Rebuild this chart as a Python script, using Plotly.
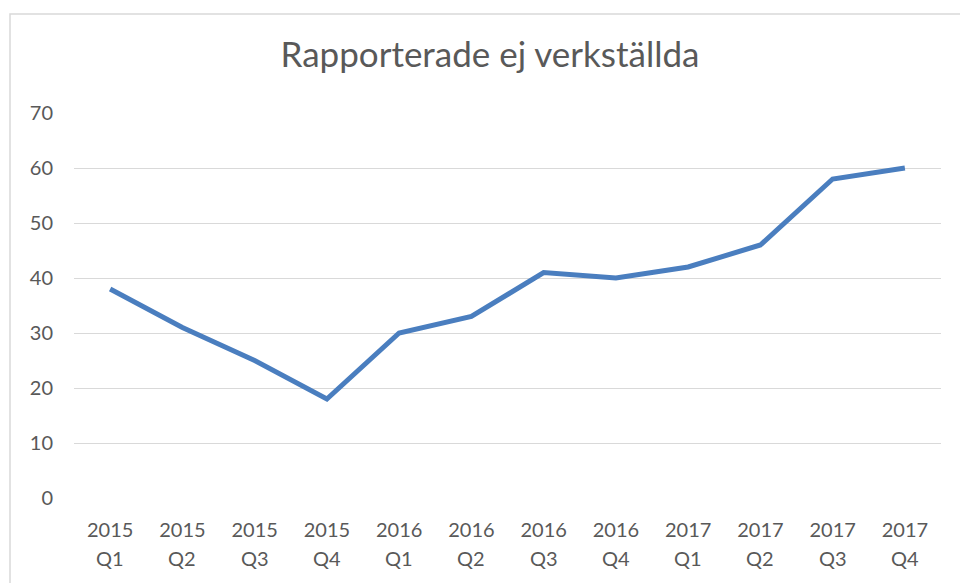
import plotly.graph_objects as go

years = ["2015", "2015", "2015", "2015", "2016", "2016", "2016", "2016",
         "2017", "2017", "2017", "2017"]
quarter_labels = ["Q1", "Q2", "Q3", "Q4", "Q1", "Q2", "Q3", "Q4",
                  "Q1", "Q2", "Q3", "Q4"]
values = [38, 31, 25, 18, 30, 33, 41, 40, 42, 46, 58, 60]
y_ticks = [0, 10, 20, 30, 40, 50, 60, 70]

FONT = "Lato, Open Sans, sans-serif"
GREY = "#595959"

xs = list(range(len(years)))

fig = go.Figure()
fig.add_trace(go.Scatter(
    x=xs, y=values, mode="lines",
    line=dict(color="#4a7ebf", width=5, shape="linear"),
    hoverinfo="skip", showlegend=False,
))

L, R, T, B = 74, 19, 113, 85
W, H = 960, 583
pw, ph = W - L - R, H - T - B

annotations = [dict(x=x, y=(H - B - 558) / ph, xref="x", yref="paper", text=q,
                    showarrow=False, xanchor="center", yanchor="middle",
                    font=dict(family=FONT, size=20, color=GREY))
               for x, q in zip(xs, quarter_labels)]

fig.update_layout(
    width=W, height=H,
    margin=dict(l=L, r=R, t=T, b=B),
    paper_bgcolor="white", plot_bgcolor="white",
    title=dict(text="Rapporterade ej verkställda", x=490 / W, xanchor="center",
               y=1 - 55 / H, yanchor="middle",
               font=dict(family=FONT, size=35, color=GREY)),
    xaxis=dict(tickmode="array", tickvals=xs, ticktext=years,
               range=[-0.5, len(years) - 0.5], showgrid=False, zeroline=False,
               showline=False, ticks="", tickfont=dict(family=FONT, size=20, color=GREY),
               ticklabelstandoff=18, fixedrange=True),
    yaxis=dict(range=[0, 70], tickvals=y_ticks, showgrid=True, gridcolor="#d9d9d9",
               gridwidth=1.3, zeroline=False, showline=False, ticks="",
               tickfont=dict(family=FONT, size=20, color=GREY),
               ticklabelstandoff=20, fixedrange=True),
    annotations=annotations,
    shapes=[dict(type="rect", xref="paper", yref="paper",
                 x0=(10 - L) / pw, x1=(W + 20 - L) / pw,
                 y0=(H - B - (H + 20)) / ph, y1=(H - B - 14) / ph,
                 line=dict(color="#d9d9d9", width=1.5), layer="below")],
)

fig.write_html("out.html", config={"displayModeBar": False},
               post_script="document.body.style.margin='0';document.body.style.overflow='hidden';")
